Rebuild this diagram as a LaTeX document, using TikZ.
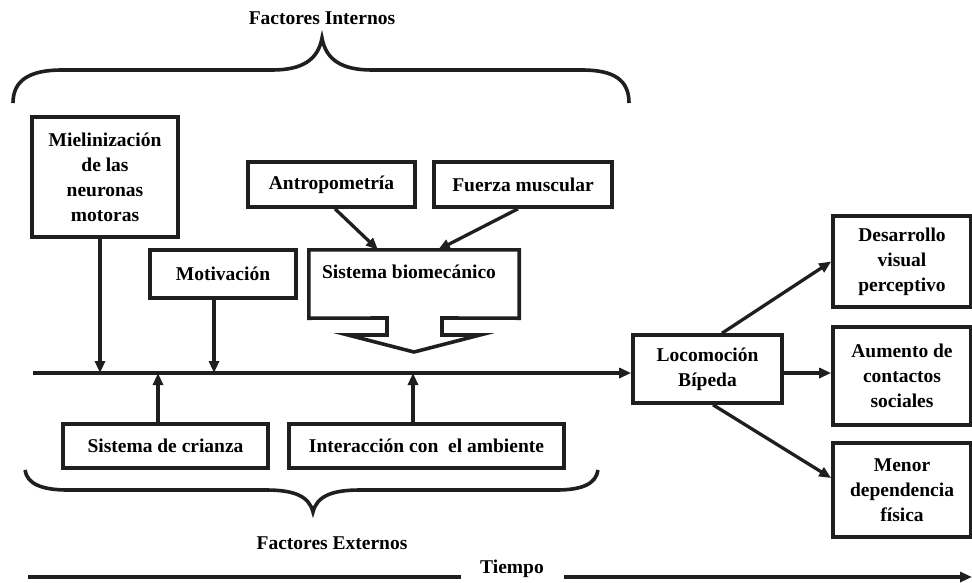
\documentclass[tikz,border=0pt]{standalone}
\usepackage{fontspec}
\setmainfont{Liberation Serif}
\usetikzlibrary{arrows.meta}
\begin{document}
\begin{tikzpicture}[x=1pt,y=-1pt,
  box/.style={draw=black!88,line width=3.6pt,inner sep=0pt,align=center,
    font=\fontsize{19.5}{25}\selectfont\bfseries},
  lbl/.style={inner sep=0pt,font=\fontsize{19.5}{25}\selectfont\bfseries},
  arr/.style={line width=3.3pt,draw=black!88,-{Triangle[length=12pt,width=10pt]}},
  brace/.style={line width=3.6pt,draw=black!88}]
\useasboundingbox (0,0) rectangle (972,582);

% labels
\node[lbl] (fint) at (322,18) {Factores Internos};
\node[lbl] (fext) at (332,543) {Factores Externos};
\node[lbl] (tiempo) at (512,569) {Tiempo};

% braces
\draw[brace] (13,103) .. controls (13,80) and (30,70) .. (62,70) -- (272,70)
  .. controls (302,70) and (318,60) .. (322,38)
  .. controls (326,60) and (342,70) .. (372,70) -- (582,70)
  .. controls (614,70) and (629,80) .. (629,103);
\draw[brace] (25,470) .. controls (27,484) and (42,490) .. (68,490) -- (266,490)
  .. controls (294,490) and (309,496) .. (313,512)
  .. controls (317,496) and (332,490) .. (360,490) -- (556,490)
  .. controls (582,490) and (596,484) .. (598,470);

% boxes
\node[box,minimum width=146pt,minimum height=120pt] (miel) at (105,177)
  {Mielinización\\de las\\neuronas\\motoras};
\node[box,minimum width=146pt,minimum height=48pt] (motiv) at (223,274) {Motivación};
\node[box,minimum width=167pt,minimum height=45pt] (antro) at (331.5,184.5) {Antropometría};
\node[box,minimum width=178pt,minimum height=45pt] (fuerza) at (523,184.5) {Fuerza muscular};
\node[box,minimum width=205pt,minimum height=44pt] (crianza) at (165.5,446) {Sistema de crianza};
\node[box,minimum width=275pt,minimum height=44pt] (interac) at (426.5,446) {Interacción con\ \ el ambiente};
\node[box,minimum width=149pt,minimum height=68pt] (loco) at (707.5,369) {Locomoción\\Bípeda};
\node[box,minimum width=138pt,minimum height=91pt] (desa) at (902,261.5) {Desarrollo\\visual\\perceptivo};
\node[box,minimum width=138pt,minimum height=98pt] (aum) at (902,376) {Aumento de\\contactos\\sociales};
\node[box,minimum width=138pt,minimum height=94pt] (menor) at (902,490) {Menor\\dependencia\\física};

% biomechanical system (block arrow)
\node[inner sep=0pt,minimum width=210pt,minimum height=68pt] (bio) at (414,284) {};
\node[lbl] (biotxt) at (409,272) {Sistema biomecánico};
\draw[line width=3.6pt,draw=black!88,line join=miter]
  (bio.north west) -- (bio.north east) -- (bio.south east) -- (442,318) -- (442,335)
  -- (480,335) -- (414,352) -- (348,335) -- (387,335) -- (387,318) -- (bio.south west) -- cycle;

% main line
\coordinate (m0) at (33,373);
\draw[arr] (m0) -- (m0 -| loco.west);

% inputs
\draw[arr] ([xshift=-5pt]miel.south) -- ([xshift=-5pt]miel.south |- m0);
\draw[arr] ([xshift=-9pt]motiv.south) -- ([xshift=-9pt]motiv.south |- m0);
\draw[arr] ([xshift=-7.5pt]crianza.north) -- ([xshift=-7.5pt]crianza.north |- m0);
\draw[arr] ([xshift=-13.5pt]interac.north) -- ([xshift=-13.5pt]interac.north |- m0);
\draw[arr] ([xshift=3.5pt]antro.south) -- ([xshift=-36pt]bio.north);
\draw[arr] ([xshift=-5pt]fuerza.south) -- ([xshift=24pt]bio.north);

% outputs
\draw[arr] ([xshift=14.5pt]loco.north) -- (desa.west);
\draw[arr] ([yshift=-4pt]loco.east) -- ([yshift=-4pt]loco.east -| aum.west);
\draw[arr] ([xshift=5.5pt]loco.south) -- ([yshift=12pt]menor.west);

% time axis
\coordinate (t0) at (28,577);
\coordinate (t1) at (972,577);
\draw[line width=4.5pt,draw=black!88] (t0) -- ([xshift=-19pt]t0 -| tiempo.west);
\draw[line width=4.5pt,draw=black!88,-{Triangle[length=12pt,width=10pt]}] ([xshift=20pt]t1 -| tiempo.east) -- (t1);
\end{tikzpicture}
\end{document}
